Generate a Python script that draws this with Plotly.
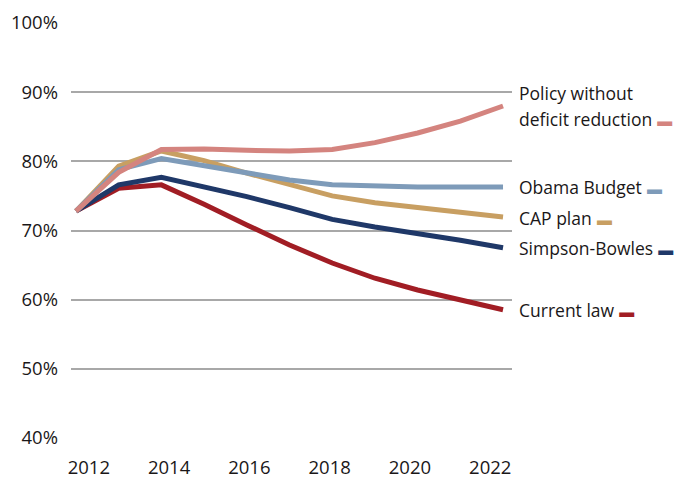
import plotly.graph_objects as go

years = list(range(2012, 2023))
policy = [72.8, 78.4, 81.7, 81.8, 81.6, 81.5, 81.7, 82.7, 84.1, 85.8, 88.0]
obama = [72.8, 78.8, 80.4, 79.4, 78.4, 77.3, 76.6, 76.4, 76.3, 76.3, 76.3]
cap = [72.8, 79.3, 81.5, 80.1, 78.3, 76.6, 75.0, 74.0, 73.3, 72.5, 71.95]
simpson = [72.8, 76.6, 77.7, 76.3, 74.9, 73.3, 71.6, 70.5, 69.6, 68.6, 67.5]
current = [72.8, 76.1, 76.6, 73.8, 70.8, 67.9, 65.3, 63.1, 61.4, 59.9, 58.55]

series = [
    ("Current law", current, "#a11d24"),
    ("Simpson-Bowles", simpson, "#1f3868"),
    ("CAP plan", cap, "#c89f62"),
    ("Obama Budget", obama, "#7e9bb9"),
    ("Policy without<br>deficit reduction", policy, "#d4847f"),
]

tick_years = [2012, 2014, 2016, 2018, 2020, 2022]
y_ticks = [40, 50, 60, 70, 80, 90, 100]

FONT = "Open Sans"
TXT = "#1a1718"

fig = go.Figure()
for name, vals, col in series:
    fig.add_trace(go.Scatter(
        x=years, y=vals, mode="lines", name=name,
        line=dict(color=col, width=5), showlegend=False, hoverinfo="skip"))

annotations = []
for name, vals, col in series:
    lines = name.split("<br>")
    body = "<br>".join(f"<span style='font-size:17.5px'>{ln}</span>" for ln in lines)
    annotations.append(dict(
        xref="paper", yref="y", x=1.011, y=vals[-1], xanchor="left", yanchor="middle",
        text=f"{body} <span style='color:{col};font-size:15px'>▬</span>",
        showarrow=False, align="left",
        font=dict(family=FONT, size=20, color=TXT)))

fig.update_layout(
    width=687, height=479,
    margin=dict(l=71, r=175, t=23, b=41),
    paper_bgcolor="white", plot_bgcolor="white",
    font=dict(family=FONT, size=18, color=TXT),
    annotations=annotations,
    xaxis=dict(
        range=[2011.883, 2022.21],
        tickvals=[2012.30 + (t - 2012) * 0.94 for t in tick_years],
        ticktext=[str(t) for t in tick_years],
        showgrid=False, zeroline=False, showline=False, ticks="",
        ticklabelstandoff=16, automargin=False,
        tickfont=dict(family=FONT, size=18.5, color=TXT)),
    yaxis=dict(
        range=[40, 100],
        tickvals=y_ticks,
        ticktext=[f"{v}%" for v in y_ticks],
        showgrid=True, gridcolor="#a8a8a8", gridwidth=1.5,
        zeroline=False, showline=False, ticks="",
        ticklabelstandoff=12, automargin=False,
        tickfont=dict(family=FONT, size=18.5, color=TXT)),
)

fig.write_html("out.html")
